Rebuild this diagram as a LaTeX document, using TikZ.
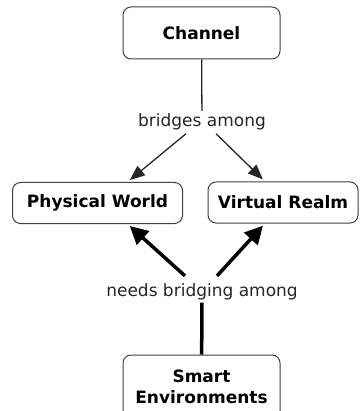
\documentclass[tikz,border=0pt]{standalone}
\usepackage{fontspec}
\setmainfont{DejaVu Sans}
\usepackage{tikz}
\usetikzlibrary{positioning,calc,arrows.meta}

\tikzset{
  concept/.style={draw=black!75, line width=1pt, rounded corners=8pt, fill=white,
    font=\bfseries\fontsize{17}{21}\selectfont, align=center, inner sep=0pt},
  phrase/.style={font=\fontsize{17}{21}\selectfont, text=black!85, inner sep=3pt},
  thinlink/.style={draw=black!85, line width=1.3pt},
  thicklink/.style={draw=black, line width=3.5pt},
}

\begin{document}
\begin{tikzpicture}[x=1pt,y=-1pt]
    \useasboundingbox (0,0) rectangle (359,411);
    % Concepts
    \node [concept, minimum width=157, minimum height=52] (channel) at (201.5,33) {Channel};
    \node [concept, minimum width=170, minimum height=41] (physical) at (97.5,203) {Physical World};
    \node [concept, minimum width=150, minimum height=41] (virtual) at (283,202.5) {Virtual Realm};
    \node [concept, minimum width=157, minimum height=64] (smart) at (201.5,387) {Smart\\Environments};
    % Linking phrases
    \node [phrase, anchor=base] (bridges) at (202,127) {bridges among};
    \node [phrase, anchor=base] (needs) at (202,296) {needs bridging among};
    % Upper links
    \draw [thinlink] (channel) -- (bridges);
    \draw [thinlink, shorten >=3pt, -{Triangle[length=15,width=12]}] ([xshift=-16]bridges.south) -- ([xshift=30]physical.north);
    \draw [thinlink, shorten >=3pt, -{Triangle[length=15,width=12]}] ([xshift=14]bridges.south) -- ([xshift=-18]virtual.north);
    % Lower links
    \draw [thicklink] (smart) -- (needs);
    \draw [thicklink, shorten >=3pt, -{Triangle[length=18,width=18]}] ([xshift=-17,yshift=4]needs.north) -- ([xshift=30]physical.south);
    \draw [thicklink, shorten >=3pt, -{Triangle[length=18,width=18]}] ([xshift=15,yshift=4]needs.north) -- ([xshift=-18]virtual.south);
\end{tikzpicture}
\end{document}
